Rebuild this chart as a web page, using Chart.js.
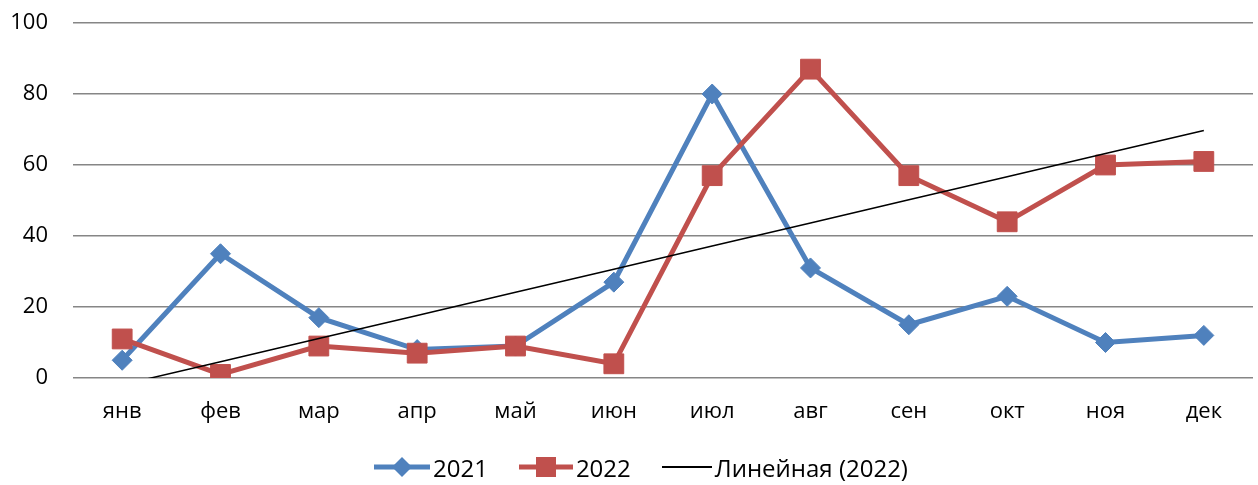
<!DOCTYPE html>
<html>
<head>
<meta charset="utf-8">
<script src="https://cdn.jsdelivr.net/npm/chart.js@4/dist/chart.umd.min.js"></script>
<style>
  html, body { margin: 0; padding: 0; background: #fff; }
  #wrap { position: relative; width: 1258px; height: 485px; }
  #c { position: absolute; left: 0; top: 0; }
  #legend { position: absolute; left: 374px; top: 451px; display: flex; justify-content: flex-start;
            font-family: "Open Sans", "Liberation Sans", sans-serif; font-size: 24px; color: #000; white-space: nowrap; }
  .item { display: flex; align-items: center; margin-right: 31px; height: 32px; }
  .item svg { margin-right: 3px; }
</style>
</head>
<body>
<div id="wrap">
  <canvas id="c" width="1258" height="485"></canvas>
  <div id="legend"></div>
</div>
<script>
const categories = ["янв", "фев", "мар", "апр", "май", "июн", "июл", "авг", "сен", "окт", "ноя", "дек"];
const values2021 = [5, 35, 17, 8, 9, 27, 80, 31, 15, 23, 10, 12];
const values2022 = [11, 1, 9, 7, 9, 4, 57, 87, 57, 44, 60, 61];
const yTicks = [0, 20, 40, 60, 80, 100];
const seriesNames = ["2021", "2022", "Линейная (2022)"];

// Linear trendline (least squares) of the 2022 series, as in the source chart
function linearTrend(ys) {
  const n = ys.length;
  let sx = 0, sy = 0, sxy = 0, sxx = 0;
  ys.forEach((y, i) => { const x = i + 1; sx += x; sy += y; sxy += x * y; sxx += x * x; });
  const b = (n * sxy - sx * sy) / (n * sxx - sx * sx);
  const a = (sy - b * sx) / n;
  return ys.map((_, i) => a + b * (i + 1));
}
const trend2022 = linearTrend(values2022);

const BLUE = "#4F81BD", RED = "#C0504D";
const FONT = "'Open Sans', 'Liberation Sans', sans-serif";

new Chart(document.getElementById("c"), {
  type: "line",
  data: {
    labels: categories,
    datasets: [
      { label: seriesNames[0], data: values2021, borderColor: BLUE, backgroundColor: BLUE, borderWidth: 5,
        pointStyle: "rectRot", pointRadius: 10, pointBorderWidth: 1, pointBackgroundColor: BLUE, pointBorderColor: BLUE,
        tension: 0, order: 2 },
      { label: seriesNames[1], data: values2022, borderColor: RED, backgroundColor: RED, borderWidth: 5,
        pointStyle: "rect", pointRadius: 14, pointBorderWidth: 1, pointBackgroundColor: RED, pointBorderColor: RED,
        tension: 0, order: 1 },
      { label: seriesNames[2], data: trend2022, borderColor: "#000", borderWidth: 1.5, pointRadius: 0,
        tension: 0, order: 0 }
    ]
  },
  options: {
    responsive: false,
    animation: false,
    layout: { autoPadding: false, padding: { left: 0, right: 5, top: 23, bottom: 0 } },
    plugins: { legend: { display: false }, tooltip: { enabled: false } },
    scales: {
      x: {
        offset: true,
        grid: { display: false, drawTicks: false },
        border: { display: false },
        ticks: { font: { family: FONT, size: 22 }, color: "#000", padding: 21, maxRotation: 0 },
        afterFit: s => { s.height = 107; s.paddingLeft = 0; s.paddingRight = 0; }
      },
      y: {
        min: 0, max: 100,
        afterBuildTicks: s => { s.ticks = yTicks.map(v => ({ value: v })); },
        grid: { color: "#868686", lineWidth: 1.5, drawTicks: false },
        border: { display: false },
        ticks: { font: { family: FONT, size: 22 }, color: "#000", padding: 25 },
        afterFit: s => { s.width = 73; s.paddingTop = 0; s.paddingBottom = 0; }
      }
    }
  }
});

// Legend (HTML text with line+marker swatches)
const legendEl = document.getElementById("legend");
const swatches = [
  `<svg width="56" height="24"><line x1="0" y1="12" x2="56" y2="12" stroke="${BLUE}" stroke-width="5"/><polygon points="28,2 38,12 28,22 18,12" fill="${BLUE}"/></svg>`,
  `<svg width="54" height="24"><line x1="0" y1="12" x2="54" y2="12" stroke="${RED}" stroke-width="5"/><rect x="17" y="2" width="20" height="20" fill="${RED}"/></svg>`,
  `<svg width="50" height="24"><line x1="0" y1="12" x2="50" y2="12" stroke="#000" stroke-width="2"/></svg>`
];
seriesNames.forEach((name, i) => {
  const d = document.createElement("div");
  d.className = "item";
  d.innerHTML = swatches[i] + "<span>" + name + "</span>";
  legendEl.appendChild(d);
});
</script>
</body>
</html>
